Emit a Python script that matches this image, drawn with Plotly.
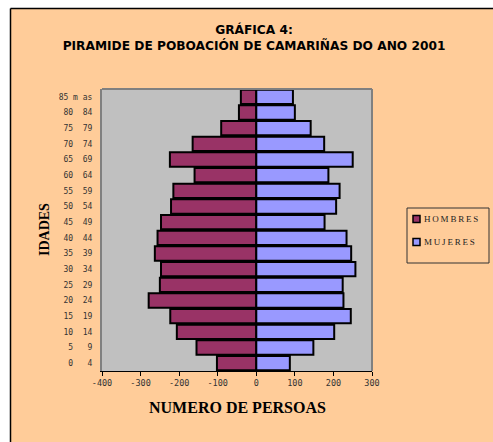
"""
Pirámide de poboación de Camariñas (2001)
"""

import plotly.graph_objects as go

# Datos
idades = ["0\u00a0\u00a0\u00a04", "5\u00a0\u00a0\u00a09", "10\u00a0\u00a014", "15\u00a0\u00a019",
          "20\u00a0\u00a024", "25\u00a0\u00a029", "30\u00a0\u00a034", "35\u00a0\u00a039",
          "40\u00a0\u00a044", "45\u00a0\u00a049", "50\u00a0\u00a054", "55\u00a0\u00a059",
          "60\u00a0\u00a064", "65\u00a0\u00a069", "70\u00a0\u00a074", "75\u00a0\u00a079",
          "80\u00a0\u00a084", "85\u00a0m\u00a0as"]
hombres = [-102, -155, -206, -223, -279, -250, -247, -263, -256, -247,
           -221, -215, -160, -224, -165, -91, -45, -40]
mujeres = [87, 148, 202, 245, 226, 224, 257, 246, 234, 177,
           207, 216, 187, 250, 176, 141, 100, 95]
x_ticks = [-400, -300, -200, -100, 0, 100, 200, 300]

COR_H = "#993366"
COR_M = "#9999FF"
FONDO = "#FFCC99"

fig = go.Figure()
fig.add_trace(go.Bar(y=idades, x=hombres, orientation="h", name="HOMBRES",
                     marker=dict(color=COR_H, line=dict(color="black", width=2))))
fig.add_trace(go.Bar(y=idades, x=mujeres, orientation="h", name="MUJERES",
                     marker=dict(color=COR_M, line=dict(color="black", width=2))))

# Posicións en pixeles da páxina -> coordenadas paper
FW, FH = 493, 442
L, T, R, B = 102, 89, 493 - 372, 442 - 371
W, H = FW - L - R, FH - T - B
px = lambda p: (p - L) / W
py = lambda p: (FH - B - p) / H

shapes = [
    # marxe branca arriba e á esquerda, e marco negro
    dict(type="rect", xref="paper", yref="paper", x0=px(-5), x1=px(500), y0=py(8.5), y1=py(-5),
         fillcolor="white", line=dict(width=0), layer="below"),
    dict(type="rect", xref="paper", yref="paper", x0=px(-5), x1=px(10.5), y0=py(450), y1=py(-5),
         fillcolor="white", line=dict(width=0), layer="below"),
    dict(type="line", xref="paper", yref="paper", x0=px(10.5), x1=px(500), y0=py(8.5), y1=py(8.5),
         line=dict(color="black", width=1.5), layer="below"),
    dict(type="line", xref="paper", yref="paper", x0=px(10.5), x1=px(10.5), y0=py(450), y1=py(8.5),
         line=dict(color="black", width=1.5), layer="below"),
    # bordo gris da área do gráfico
    dict(type="line", xref="paper", yref="paper", x0=0, x1=1, y0=1, y1=1,
         line=dict(color="#808080", width=2)),
    dict(type="line", xref="paper", yref="paper", x0=1, x1=1, y0=0, y1=1,
         line=dict(color="#808080", width=2)),
    # lenda
    dict(type="rect", xref="paper", yref="paper", x0=px(407), x1=px(489), y0=py(263), y1=py(208),
         fillcolor=FONDO, line=dict(color="#333333", width=1)),
]
annotations = [
    dict(text="IDADES", xref="paper", yref="paper", x=px(44), y=py(230), textangle=-90,
         xanchor="center", yanchor="middle", showarrow=False,
         font=dict(family="Liberation Serif", size=14, color="black", weight="bold")),
    dict(text="NUMERO DE PERSOAS", xref="paper", yref="paper", x=px(237), y=py(407),
         xanchor="center", yanchor="middle", showarrow=False,
         font=dict(family="Liberation Serif", size=16, color="black", weight="bold")),
]
for i, (nome, cor) in enumerate([("H\u2009O\u2009M\u2009B\u2009R\u2009E\u2009S", COR_H),
                                  ("M\u2009U\u2009J\u2009E\u2009R\u2009E\u2009S", COR_M)]):
    yc = 219 + i * 23
    shapes.append(dict(type="rect", xref="paper", yref="paper", x0=px(413), x1=px(420),
                       y0=py(yc + 3.5), y1=py(yc - 3.5), fillcolor=cor,
                       line=dict(color="black", width=1.5)))
    annotations.append(dict(text=nome, xref="paper", yref="paper", x=px(422), y=py(yc),
                            xanchor="left", yanchor="middle", showarrow=False,
                            font=dict(family="Liberation Serif", size=9, color="#222222")))

fig.update_layout(
    width=FW, height=FH,
    barmode="relative", bargap=0.08,
    showlegend=False,
    paper_bgcolor=FONDO, plot_bgcolor="#C0C0C0",
    margin=dict(l=L, r=R, t=T, b=B),
    title=dict(text="GRÁFICA 4:<br>PIRAMIDE DE POBOACIÓN DE CAMARIÑAS DO ANO 2001",
               x=254 / FW, xanchor="center", y=1 - 34 / FH, yanchor="top",
               font=dict(family="DejaVu Sans", size=12.2, color="black", weight="bold")),
    shapes=shapes, annotations=annotations,
)
fig.update_xaxes(range=[-400, 300], tickvals=x_ticks, ticktext=[str(v) for v in x_ticks],
                 showgrid=False, zeroline=False, showline=True, linecolor="black", linewidth=1,
                 ticks="outside", ticklen=4, tickcolor="black",
                 tickfont=dict(family="DejaVu Sans Mono", size=8.5, color="#333333"))
fig.update_yaxes(showgrid=False, showline=True, linecolor="#808080", linewidth=2,
                 ticks="", ticklabelstandoff=6,
                 tickfont=dict(family="DejaVu Sans Mono", size=8, color="#333333"))

# sen marxe nin barras de desprazamento, para que a figura ocupe toda a xanela
estilo = ("var s=document.createElement('style');"
          "s.textContent='html,body{margin:0;overflow:hidden;scrollbar-width:none}"
          "::-webkit-scrollbar{display:none;width:0}';"
          "document.head.appendChild(s);")
fig.write_html("out.html", config={"displayModeBar": False}, post_script=estilo)
